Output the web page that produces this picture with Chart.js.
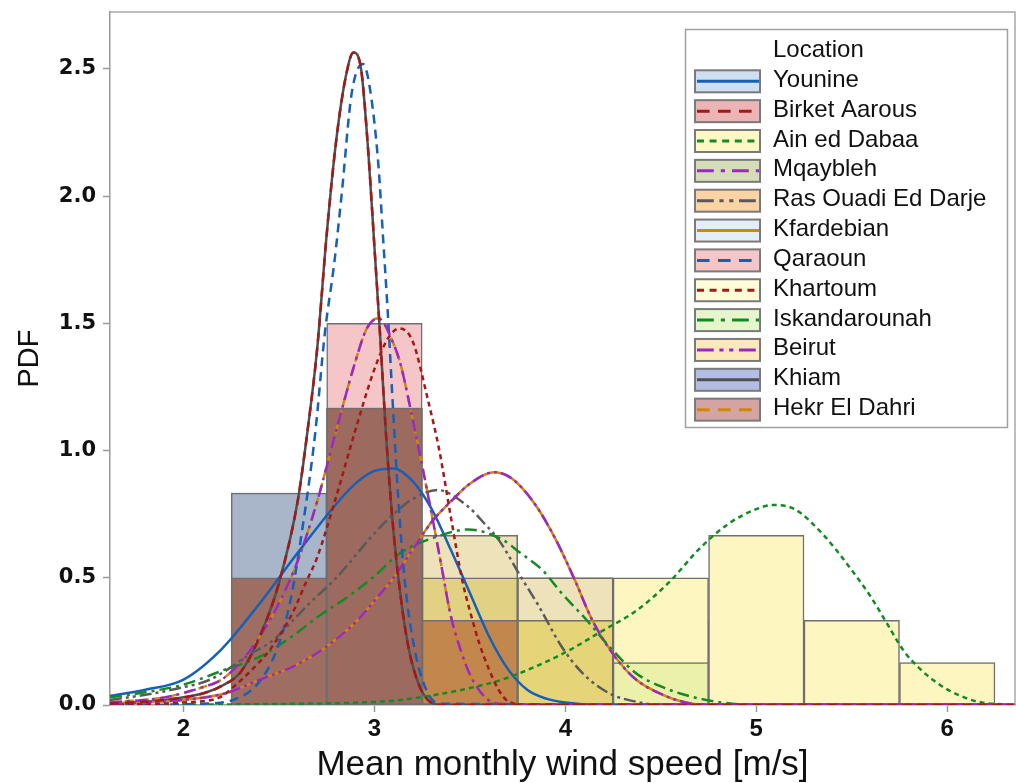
<!DOCTYPE html>
<html>
<head>
<meta charset="utf-8">
<title>Mean monthly wind speed PDF</title>
<script src="https://cdn.jsdelivr.net/npm/chart.js@4.4.1/dist/chart.umd.min.js"></script>
<style>
  html, body { margin: 0; padding: 0; background: #fff; }
  #wrap { width: 1016px; height: 783px; }
</style>
</head>
<body>
<div id="wrap"><canvas id="pdf-chart" width="1016" height="783"></canvas></div>
<script>
// --- data -----------------------------------------------------------------
const locations = ['Younine', 'Birket Aarous', 'Ain ed Dabaa', 'Mqaybleh', 'Ras Ouadi Ed Darje',
  'Kfardebian', 'Qaraoun', 'Khartoum', 'Iskandarounah', 'Beirut', 'Khiam', 'Hekr El Dahri'];

const binCenters = [2.5, 3.0, 3.5, 4.0, 4.5, 5.0, 5.5, 6.0];   // bin width 0.5 m/s
const xTicks = [2, 3, 4, 5, 6];
const yTicks = [0, 0.5, 1.0, 1.5, 2.0, 2.5];

// histogram densities (12 months per location)
const histYounine   = [0.5, 0.833, 0.5, 0.167, 0, 0, 0, 0];
const histBirket    = [0.833, 1.167, 0, 0, 0, 0, 0, 0];
const histAin       = [0, 0, 0, 0.333, 0.5, 0.667, 0.333, 0.167];
const histMqaybleh  = [0.5, 1.167, 0.333, 0, 0, 0, 0, 0];
const histRas       = [0.333, 0.5, 0.667, 0.5, 0, 0, 0, 0];
const histKfardebian = [0, 0.5, 0.667, 0.5, 0.333, 0, 0, 0];
const histQaraoun   = [0.5, 1.5, 0, 0, 0, 0, 0, 0];
const histKhartoum  = [0.333, 1.167, 0.5, 0, 0, 0, 0, 0];
const histIskandarounah = [0.5, 0.667, 0.333, 0.333, 0.167, 0, 0, 0];
const histBeirut    = [0, 0.5, 0.667, 0.5, 0.333, 0, 0, 0];
const histKhiam     = [0.833, 1.167, 0, 0, 0, 0, 0, 0];
const histHekr      = [0.5, 1.167, 0.333, 0, 0, 0, 0, 0];

// fitted PDF curves (x in m/s, y = density)
const younineX = [1.615, 1.8, 2.0, 2.2, 2.4, 2.6, 2.8, 2.9, 3.0, 3.1, 3.2, 3.3, 3.4, 3.5, 3.6, 3.7, 3.8, 3.9, 4.0, 4.2, 6.355];
const younineY = [0.035, 0.06, 0.10, 0.22, 0.40, 0.60, 0.79, 0.87, 0.92, 0.93, 0.88, 0.77, 0.61, 0.44, 0.27, 0.14, 0.06, 0.025, 0.01, 0, 0];

const birketX = [1.615, 1.9, 2.1, 2.2, 2.3, 2.4, 2.5, 2.6, 2.65, 2.7, 2.75, 2.8, 2.85, 2.89, 2.93, 2.97, 3.0, 3.03, 3.06, 3.1, 3.14, 3.18, 3.23, 3.28, 3.35, 6.355];
const birketY = [0.005, 0.02, 0.045, 0.075, 0.13, 0.27, 0.48, 0.81, 1.08, 1.40, 1.85, 2.22, 2.47, 2.565, 2.50, 2.15, 1.80, 1.45, 1.07, 0.68, 0.41, 0.22, 0.085, 0.02, 0, 0];

const qaraounX = [1.615, 2.1, 2.26, 2.39, 2.49, 2.56, 2.62, 2.69, 2.74, 2.79, 2.83, 2.88, 2.94, 2.975, 3.02, 3.045, 3.07, 3.1, 3.125, 3.16, 3.21, 3.28, 3.35, 6.355];
const qaraounY = [0, 0.005, 0.02, 0.085, 0.22, 0.41, 0.68, 1.07, 1.46, 1.74, 2.02, 2.40, 2.52, 2.43, 2.13, 1.84, 1.54, 1.13, 0.81, 0.48, 0.22, 0.046, 0.005, 0];

const mqaybX = [1.615, 1.9, 2.1, 2.2, 2.3, 2.4, 2.5, 2.6, 2.7, 2.8, 2.9, 2.96, 3.02, 3.1, 3.14, 3.19, 3.25, 3.3, 3.35, 3.4, 3.45, 3.5, 3.58, 3.65, 3.8, 6.355];
const mqaybY = [0.01, 0.03, 0.07, 0.10, 0.17, 0.27, 0.40, 0.57, 0.80, 1.08, 1.35, 1.48, 1.52, 1.42, 1.33, 1.16, 0.94, 0.75, 0.55, 0.35, 0.22, 0.12, 0.03, 0.005, 0, 0];

const khartoumX = [1.615, 2.0, 2.19, 2.26, 2.36, 2.45, 2.57, 2.64, 2.7, 2.8, 2.9, 3.0, 3.07, 3.13, 3.2, 3.28, 3.34, 3.4, 3.46, 3.5, 3.55, 3.6, 3.65, 3.7, 3.8, 6.355];
const khartoumY = [0, 0.01, 0.03, 0.07, 0.14, 0.215, 0.36, 0.48, 0.58, 0.82, 1.08, 1.32, 1.44, 1.48, 1.43, 1.20, 1.0, 0.74, 0.49, 0.37, 0.24, 0.14, 0.06, 0.015, 0, 0];

const rasX = [1.615, 1.8, 2.0, 2.14, 2.35, 2.47, 2.57, 2.66, 2.8, 3.0, 3.1, 3.19, 3.33, 3.49, 3.58, 3.65, 3.77, 3.86, 3.98, 4.09, 4.23, 4.37, 4.5, 6.355];
const rasY = [0.02, 0.04, 0.07, 0.10, 0.20, 0.255, 0.33, 0.40, 0.50, 0.675, 0.75, 0.805, 0.845, 0.78, 0.71, 0.65, 0.50, 0.39, 0.23, 0.125, 0.046, 0.013, 0, 0];

const iskX = [1.615, 1.8, 2.0, 2.22, 2.4, 2.57, 2.71, 2.85, 2.99, 3.14, 3.32, 3.49, 3.67, 3.76, 3.88, 3.98, 4.11, 4.23, 4.37, 4.51, 4.65, 4.79, 5.0, 6.355];
const iskY = [0.03, 0.05, 0.08, 0.14, 0.19, 0.27, 0.35, 0.42, 0.50, 0.60, 0.66, 0.69, 0.65, 0.60, 0.53, 0.44, 0.335, 0.23, 0.125, 0.07, 0.035, 0.013, 0, 0];

const beirutX = [1.615, 2.0, 2.22, 2.4, 2.57, 2.75, 2.92, 3.0, 3.1, 3.2, 3.3, 3.4, 3.5, 3.63, 3.72, 3.84, 3.95, 4.05, 4.14, 4.25, 4.37, 4.51, 4.63, 4.75, 6.355];
const beirutY = [0.005, 0.02, 0.046, 0.10, 0.15, 0.23, 0.34, 0.41, 0.50, 0.61, 0.72, 0.80, 0.87, 0.915, 0.89, 0.79, 0.65, 0.49, 0.335, 0.20, 0.10, 0.04, 0.01, 0, 0];

const ainX = [1.615, 2.6, 3.0, 3.14, 3.32, 3.49, 3.67, 3.84, 4.02, 4.19, 4.37, 4.54, 4.71, 4.85, 5.0, 5.09, 5.2, 5.35, 5.49, 5.6, 5.685, 5.77, 5.86, 5.95, 6.04, 6.16, 6.355];
const ainY = [0, 0.005, 0.012, 0.02, 0.04, 0.065, 0.10, 0.15, 0.215, 0.29, 0.37, 0.48, 0.62, 0.71, 0.77, 0.786, 0.77, 0.67, 0.54, 0.425, 0.32, 0.215, 0.14, 0.085, 0.046, 0.013, 0];

// --- styles -----------------------------------------------------------------
const DASH = [9, 6], SHORT = [5, 4], DASHDOT = [12, 5, 3, 5], DASHDOTDOT = [12, 4, 3, 4, 3, 4];
const styles = {
  'Younine':            { fill: '#cddff0', line: '#1660b8', dash: [] },
  'Birket Aarous':      { fill: '#ecb4b4', line: '#a01a1a', dash: DASH },
  'Ain ed Dabaa':       { fill: '#fff7c4', line: '#148a24', dash: SHORT },
  'Mqaybleh':           { fill: '#d5dcb8', line: '#9a28c8', dash: DASHDOT },
  'Ras Ouadi Ed Darje': { fill: '#fbd3a4', line: '#5a5a5a', dash: DASHDOTDOT },
  'Kfardebian':         { fill: '#e4eef6', line: '#d08800', dash: [] },
  'Qaraoun':            { fill: '#f4c6c8', line: '#1660b8', dash: DASH },
  'Khartoum':           { fill: '#fffcd8', line: '#a01a1a', dash: SHORT },
  'Iskandarounah':      { fill: '#e6f6cc', line: '#148a24', dash: DASHDOT },
  'Beirut':             { fill: '#fde8bc', line: '#9a28c8', dash: DASHDOTDOT },
  'Khiam':              { fill: '#b4bee4', line: '#505050', dash: [] },
  'Hekr El Dahri':      { fill: '#d4a4a4', line: '#d08800', dash: DASH }
};
// colour the overlapping bars show where they are on top
const shade = {
  'Hekr El Dahri': { 2.5: '#9e6e62', 3: '#9c6a5f', 3.5: '#c1874c' },
  'Khiam': { 2.5: '#a9b5c9' },
  'Iskandarounah': { 4: '#e5d478', 4.5: '#ebf0ab' },
  'Ain ed Dabaa': { 4.5: '#fef6c1', 5: '#fef6c1', 5.5: '#fef6c1', 6: '#fef6c1' },
  'Khartoum': { 3.5: '#e0d282' },
  'Ras Ouadi Ed Darje': { 3.5: '#ede2b9', 4: '#ede2b9' },
  'Qaraoun': { 3: '#f4c6c8' }
};

const series = [
  { name: 'Younine', hist: histYounine, cx: younineX, cy: younineY },
  { name: 'Birket Aarous', hist: histBirket, cx: birketX, cy: birketY },
  { name: 'Ain ed Dabaa', hist: histAin, cx: ainX, cy: ainY },
  { name: 'Mqaybleh', hist: histMqaybleh, cx: mqaybX, cy: mqaybY },
  { name: 'Ras Ouadi Ed Darje', hist: histRas, cx: rasX, cy: rasY },
  { name: 'Kfardebian', hist: histKfardebian, cx: beirutX, cy: beirutY },   // same fit as Beirut
  { name: 'Qaraoun', hist: histQaraoun, cx: qaraounX, cy: qaraounY },
  { name: 'Khartoum', hist: histKhartoum, cx: khartoumX, cy: khartoumY },
  { name: 'Iskandarounah', hist: histIskandarounah, cx: iskX, cy: iskY },
  { name: 'Beirut', hist: histBeirut, cx: beirutX, cy: beirutY },
  { name: 'Khiam', hist: histKhiam, cx: birketX, cy: birketY },            // same fit as Birket Aarous
  { name: 'Hekr El Dahri', hist: histHekr, cx: mqaybX, cy: mqaybY }        // same fit as Mqaybleh
];

// drawing stacks, bottom -> top
const barLayer = ['Younine', 'Birket Aarous', 'Mqaybleh', 'Kfardebian', 'Beirut', 'Qaraoun',
  'Ras Ouadi Ed Darje', 'Khartoum', 'Ain ed Dabaa', 'Iskandarounah', 'Khiam', 'Hekr El Dahri'];
const lineLayer = ['Khiam', 'Kfardebian', 'Hekr El Dahri', 'Younine', 'Ras Ouadi Ed Darje', 'Iskandarounah',
  'Ain ed Dabaa', 'Qaraoun', 'Khartoum', 'Mqaybleh', 'Beirut', 'Birket Aarous'];

const datasets = [];
series.forEach(s => {
  const st = styles[s.name];
  datasets.push({
    type: 'bar',
    label: s.name,
    order: 300 - barLayer.indexOf(s.name),
    data: binCenters.map((x, i) => ({ x: x, y: s.hist[i] })).filter(p => p.y > 0),
    backgroundColor: c => (c.raw && shade[s.name] && shade[s.name][c.raw.x]) || st.fill,
    borderColor: '#6f6f6f',
    borderWidth: 1.5,
    borderSkipped: false,
    grouped: false,
    barPercentage: 1,
    categoryPercentage: 1
  });
  datasets.push({
    type: 'line',
    label: s.name + ' fit',
    order: 100 - lineLayer.indexOf(s.name),
    data: s.cx.map((x, i) => ({ x: x, y: s.cy[i] })),
    borderColor: st.line,
    borderDash: st.dash,
    borderWidth: 2.5,
    pointRadius: 0,
    fill: false,
    cubicInterpolationMode: 'monotone'
  });
});

// grey frame around the plot area
const framePlugin = {
  id: 'frame',
  afterDatasetsDraw(chart) {
    const { ctx, chartArea: a } = chart;
    ctx.save();
    ctx.strokeStyle = '#a8a8a8';
    ctx.lineWidth = 1.5;
    ctx.beginPath();
    ctx.moveTo(a.left, a.top);
    ctx.lineTo(a.right, a.top);
    ctx.lineTo(a.right, a.bottom);
    ctx.stroke();
    ctx.restore();
  }
};

// boxed legend with fill swatch + line style
const legendPlugin = {
  id: 'locationLegend',
  afterDraw(chart) {
    const c = chart.ctx;
    c.save();
    c.fillStyle = '#fff';
    c.fillRect(685, 29, 322, 398);
    c.strokeStyle = '#a0a0a0';
    c.lineWidth = 1.5;
    c.strokeRect(685.5, 29.5, 322, 398);
    c.font = '24px "Liberation Sans", Arial, sans-serif';
    c.fillStyle = '#111';
    c.fillText('Location', 773, 57);
    locations.forEach((name, i) => {
      const st = styles[name];
      const cy = 81.3 + i * 29.85;
      c.fillStyle = st.fill;
      c.fillRect(695, cy - 11, 65, 22);
      c.strokeStyle = '#7a7a7a';
      c.lineWidth = 2;
      c.strokeRect(695, cy - 11, 65, 22);
      c.setLineDash(st.dash.map(v => v * 1.4));
      c.strokeStyle = st.line;
      c.lineWidth = 3;
      c.beginPath();
      c.moveTo(697, cy);
      c.lineTo(759, cy);
      c.stroke();
      c.setLineDash([]);
      c.fillStyle = '#111';
      c.fillText(name, 773, cy + 5.5);
    });
    c.restore();
  }
};

new Chart(document.getElementById('pdf-chart'), {
  type: 'bar',
  data: { datasets: datasets },
  options: {
    responsive: false,
    animation: false,
    devicePixelRatio: 1,
    layout: { padding: { top: 12, right: 1, left: 0, bottom: 0 } },
    plugins: { legend: { display: false }, tooltip: { enabled: false } },
    scales: {
      x: {
        type: 'linear',
        offset: false,
        min: 1.615,
        max: 6.355,
        afterFit: s => { s.height = 78; s.paddingLeft = 0; s.paddingRight = 0; },
        afterBuildTicks: s => { s.ticks = xTicks.map(v => ({ value: v })); },
        grid: { offset: false, drawOnChartArea: false, tickLength: 7, color: '#9a9a9a', tickWidth: 1.5 },
        border: { color: '#9a9a9a', width: 1.5 },
        ticks: {
          font: { family: 'Liberation Sans', weight: 'bold', size: 24 },
          color: '#111', padding: 3, maxRotation: 0
        },
        title: {
          display: true,
          text: 'Mean monthly wind speed [m/s]',
          color: '#111',
          font: { family: 'Liberation Sans', size: 35 },
          padding: { top: 0, bottom: -3 }
        }
      },
      y: {
        type: 'linear',
        min: 0,
        max: 2.724,
        afterFit: s => { s.width = 110; s.paddingTop = 0; s.paddingBottom = 0; },
        afterBuildTicks: s => { s.ticks = yTicks.map(v => ({ value: v })); },
        grid: { drawOnChartArea: false, tickLength: 7, color: '#9a9a9a', tickWidth: 1.5 },
        border: { color: '#9a9a9a', width: 1.5 },
        ticks: {
          font: { family: 'DejaVu Sans', weight: 'bold', size: 21 },
          color: '#111', padding: 7, callback: v => v.toFixed(1)
        },
        title: {
          display: true,
          text: 'PDF',
          color: '#111',
          font: { family: 'Liberation Sans', size: 29 },
          padding: { top: 13, bottom: 0 }
        }
      }
    }
  },
  plugins: [framePlugin, legendPlugin]
});
</script>
</body>
</html>
